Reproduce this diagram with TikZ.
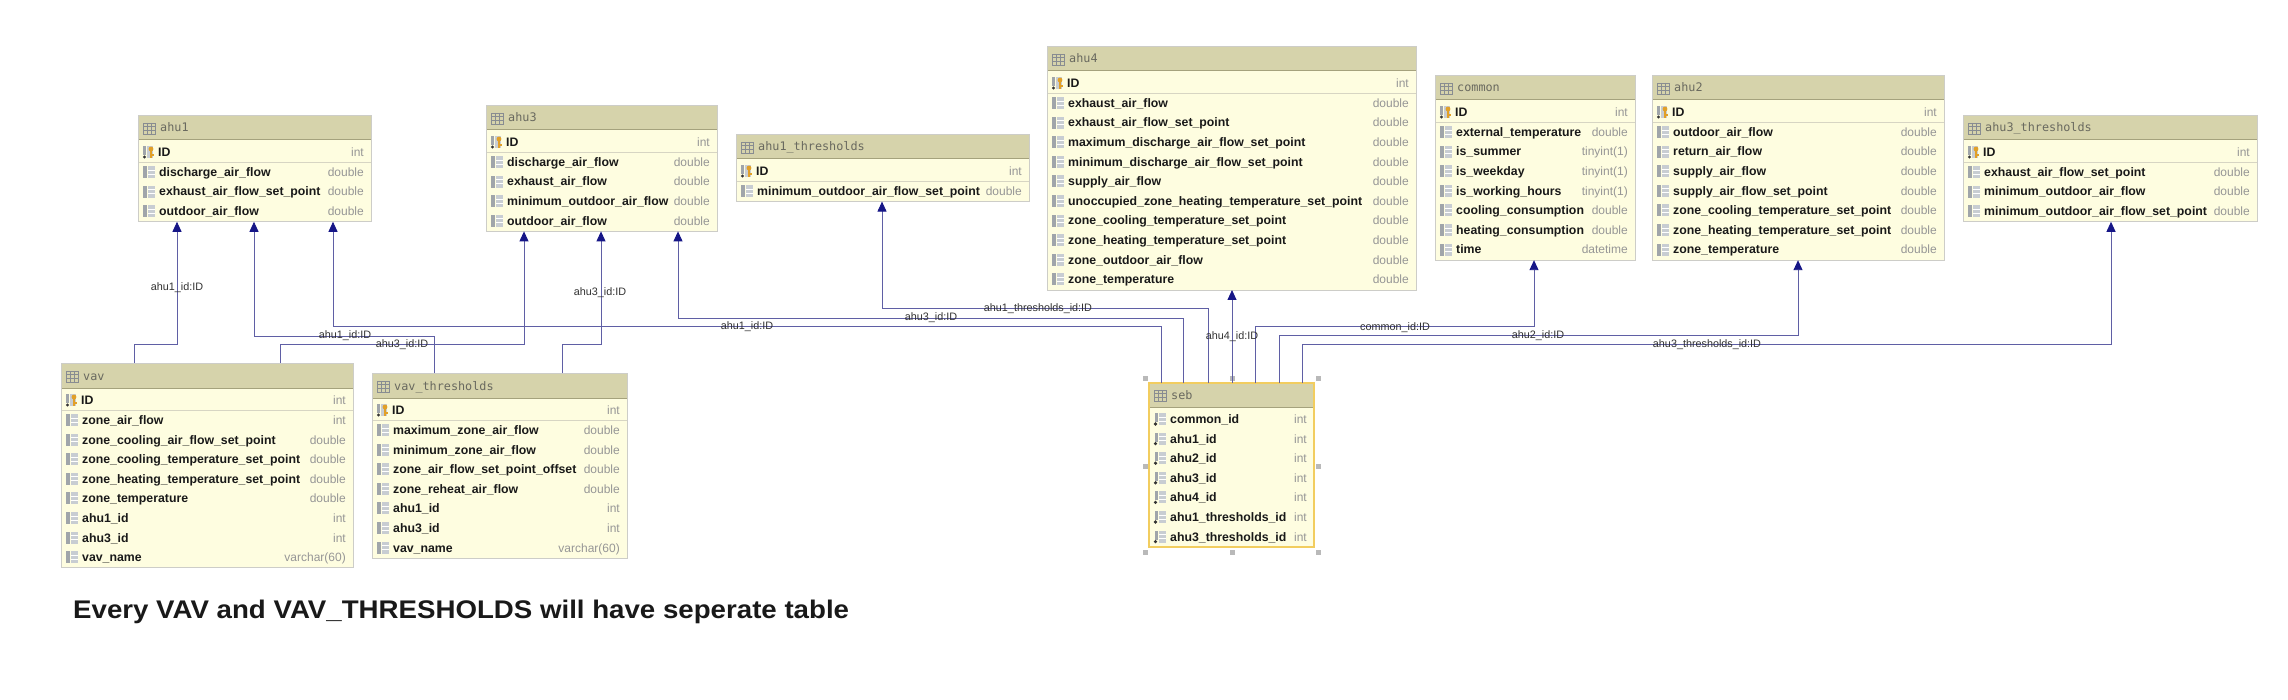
\documentclass[tikz,border=0pt]{standalone}
\usepackage{fontspec}
\setmainfont{Liberation Sans}
\newfontfamily\hdrfont{DejaVu Sans Mono}
\usepackage{graphicx}
\usetikzlibrary{arrows.meta}

\definecolor{bodyc}{RGB}{254,253,224}
\definecolor{hdrc}{RGB}{214,211,171}
\definecolor{hdrln}{RGB}{165,162,125}
\definecolor{brdc}{RGB}{205,205,200}
\definecolor{sepc}{RGB}{215,213,195}
\definecolor{linkc}{RGB}{95,95,165}
\definecolor{tipc}{RGB}{22,22,135}
\definecolor{typec}{RGB}{150,150,150}
\definecolor{namec}{RGB}{25,25,25}
\definecolor{hdrtc}{RGB}{105,105,95}
\definecolor{lblc}{RGB}{50,50,50}
\definecolor{icd}{RGB}{160,165,170}
\definecolor{icl}{RGB}{200,205,210}
\definecolor{keyc}{RGB}{225,160,40}
\definecolor{selc}{RGB}{242,205,95}

\tikzset{
 tblbox/.style={fill=bodyc, draw=none, inner sep=0pt, outer sep=0pt, anchor=north west},
 fname/.style={font=\fontsize{12.3}{14}\selectfont\bfseries, text=namec, inner sep=0pt, anchor=base west},
 ftype/.style={font=\fontsize{12}{14}\selectfont, text=typec, inner sep=0pt, anchor=base east},
 htext/.style={font=\hdrfont\fontsize{11.8}{14}\selectfont, text=hdrtc, inner sep=0pt, anchor=base west},
 rel/.style={draw=linkc, line width=0.9pt, -{Triangle[width=9pt,length=10pt,color=tipc]}},
 lbl/.style={font=\fontsize{10.8}{12}\selectfont, text=lblc, inner sep=0pt},
}

\newcommand\colicon{%
 \fill[icd] (0,-6) rectangle (4,6);
 \fill[icl] (5,-6) rectangle (12,6);
 \draw[white, line width=0.7pt] (5,-2) -- (12,-2) (5,2) -- (12,2);}
\newcommand\keyicon{%
 \fill[icd] (0,-6) rectangle (3,3);
 \fill[icl] (4,-6) rectangle (10,6);
 \fill[black!80] (1.5,5) circle (1.7);
 \fill[keyc] (8,-3) circle (2.4);
 \draw[keyc, line width=1.2pt] (8,-1) -- (8,6) (8,3) -- (10.5,3);}
\newcommand\fkicon{%
 \fill[icd] (1,-6) rectangle (4,3);
 \fill[icl] (5,-6) rectangle (12,6);
 \draw[white, line width=0.7pt] (5,-2) -- (12,-2) (5,2) -- (12,2);
 \fill[black!80] (1.5,5) circle (1.8);}
\newcommand\tblicon{%
 \draw[icd!85!black, line width=0.6pt] (0,-5) rectangle (12,6) (0,-1.5) -- (12,-1.5) (0,2) -- (12,2) (4,-5) -- (4,6) (8,-5) -- (8,6);}

% #1 name, #2 x, #3 y, #4 width, #5 nfields, #6 title, #7 fields
\newcommand\dbtable[7]{%
 \node[tblbox, minimum width=#4pt, minimum height={(48+#5*19.6)*1pt}] (#1) at (#2,#3) {};
 \fill[hdrc] (#1.north west) rectangle ([yshift=-25pt]#1.north east);
 \draw[hdrln, line width=1pt] ([yshift=-25pt]#1.north west) -- ([yshift=-25pt]#1.north east);
 \draw[sepc, line width=0.8pt] ([yshift=-47pt]#1.north west) -- ([yshift=-47pt]#1.north east);
 \begin{scope}[shift={([xshift=5pt,yshift=-13pt]#1.north west)}]\tblicon\end{scope}
 \node[htext] (#1-title) at ([xshift=22pt,yshift=-17pt]#1.north west) {#6};
 \begin{scope}[shift={([xshift=5pt,yshift=-37pt]#1.north west)}]\keyicon\end{scope}
 \node[fname] (#1-id) at ([xshift=20pt,yshift=-41.4pt]#1.north west) {ID};
 \node[ftype] (#1-idt) at ([xshift=-7pt,yshift=-41.4pt]#1.north east) {int};
 \foreach \fn/\ft [count=\i from 0] in {#7} {
   \pgfmathsetmacro\ry{57+\i*19.6}
   \pgfmathsetmacro\rb{\ry+4.4}
   \begin{scope}[shift={([xshift=5pt,yshift={-\ry*1pt}]#1.north west)}]\colicon\end{scope}
   \node[fname] (#1-f\i) at ([xshift=21pt,yshift={-\rb*1pt}]#1.north west) {\fn};
   \node[ftype] (#1-t\i) at ([xshift=-7pt,yshift={-\rb*1pt}]#1.north east) {\ft};
 }
 \draw[brdc, line width=0.8pt] (#1.north west) rectangle (#1.south east);
}

\begin{document}
\begin{tikzpicture}[x=1pt,y=-1pt]
\fill[white] (0,0) rectangle (2288,700);
\useasboundingbox (0,0) rectangle (2288,700);

\dbtable{ahu1}{138}{115}{233}{3}{ahu1}{discharge\_air\_flow/double, exhaust\_air\_flow\_set\_point/double, outdoor\_air\_flow/double}
\dbtable{ahu3}{486}{105}{231}{4}{ahu3}{discharge\_air\_flow/double, exhaust\_air\_flow/double, minimum\_outdoor\_air\_flow/double, outdoor\_air\_flow/double}
\dbtable{ahu1t}{736}{134}{293}{1}{ahu1\_thresholds}{minimum\_outdoor\_air\_flow\_set\_point/double}
\dbtable{ahu4}{1047}{46}{369}{10}{ahu4}{exhaust\_air\_flow/double, exhaust\_air\_flow\_set\_point/double, maximum\_discharge\_air\_flow\_set\_point/double, minimum\_discharge\_air\_flow\_set\_point/double, supply\_air\_flow/double, unoccupied\_zone\_heating\_temperature\_set\_point/double, zone\_cooling\_temperature\_set\_point/double, zone\_heating\_temperature\_set\_point/double, zone\_outdoor\_air\_flow/double, zone\_temperature/double}
\dbtable{common}{1435}{75}{200}{7}{common}{external\_temperature/double, is\_summer/tinyint(1), is\_weekday/tinyint(1), is\_working\_hours/tinyint(1), cooling\_consumption/double, heating\_consumption/double, time/datetime}
\dbtable{ahu2}{1652}{75}{292}{7}{ahu2}{outdoor\_air\_flow/double, return\_air\_flow/double, supply\_air\_flow/double, supply\_air\_flow\_set\_point/double, zone\_cooling\_temperature\_set\_point/double, zone\_heating\_temperature\_set\_point/double, zone\_temperature/double}
\dbtable{ahu3t}{1963}{115}{294}{3}{ahu3\_thresholds}{exhaust\_air\_flow\_set\_point/double, minimum\_outdoor\_air\_flow/double, minimum\_outdoor\_air\_flow\_set\_point/double}
\dbtable{vav}{61}{363}{292}{8}{vav}{zone\_air\_flow/int, zone\_cooling\_air\_flow\_set\_point/double, zone\_cooling\_temperature\_set\_point/double, zone\_heating\_temperature\_set\_point/double, zone\_temperature/double, ahu1\_id/int, ahu3\_id/int, vav\_name/varchar(60)}
\dbtable{vavt}{372}{373}{255}{7}{vav\_thresholds}{maximum\_zone\_air\_flow/double, minimum\_zone\_air\_flow/double, zone\_air\_flow\_set\_point\_offset/double, zone\_reheat\_air\_flow/double, ahu1\_id/int, ahu3\_id/int, vav\_name/varchar(60)}

% seb table (selected)
\node[tblbox, minimum width=165pt, minimum height=164pt] (seb) at (1149,383) {};
\fill[hdrc] (seb.north west) rectangle ([yshift=-24pt]seb.north east);
\draw[hdrln, line width=1pt] ([yshift=-24pt]seb.north west) -- ([yshift=-24pt]seb.north east);
\begin{scope}[shift={([xshift=5pt,yshift=-12pt]seb.north west)}]\tblicon\end{scope}
\node[htext] (seb-title) at ([xshift=22pt,yshift=-16pt]seb.north west) {seb};
\foreach \fn [count=\i from 0] in {common\_id, ahu1\_id, ahu2\_id, ahu3\_id, ahu4\_id, ahu1\_thresholds\_id, ahu3\_thresholds\_id} {
  \pgfmathsetmacro\ry{36+\i*19.6}
  \pgfmathsetmacro\rb{\ry+4.4}
  \begin{scope}[shift={([xshift=5pt,yshift={-\ry*1pt}]seb.north west)}]\fkicon\end{scope}
  \node[fname] (seb-f\i) at ([xshift=21pt,yshift={-\rb*1pt}]seb.north west) {\fn};
  \node[ftype] (seb-t\i) at ([xshift=-7pt,yshift={-\rb*1pt}]seb.north east) {int};
}
\draw[selc, line width=1.5pt] (seb.north west) rectangle (seb.south east);
\foreach \hx/\hy in {1145/378, 1232/378, 1318/378, 1145/466, 1318/466, 1145/552, 1232/552, 1318/552}
  \fill[gray!55] (\hx-2.5,\hy-2.5) rectangle (\hx+2.5,\hy+2.5);

% connector end points
\coordinate (ahu1-a) at ([xshift=39pt]ahu1.south west);
\coordinate (ahu1-b) at ([xshift=116pt]ahu1.south west);
\coordinate (ahu1-c) at ([xshift=195pt]ahu1.south west);
\coordinate (ahu3-a) at ([xshift=38pt]ahu3.south west);
\coordinate (ahu3-b) at ([xshift=115pt]ahu3.south west);
\coordinate (ahu3-c) at ([xshift=192pt]ahu3.south west);
\coordinate (ahu1t-a) at ([xshift=146pt]ahu1t.south west);
\coordinate (ahu4-a) at ([xshift=185pt]ahu4.south west);
\coordinate (common-a) at ([xshift=99pt]common.south west);
\coordinate (ahu2-a) at ([xshift=146pt]ahu2.south west);
\coordinate (ahu3t-a) at ([xshift=148pt]ahu3t.south west);
\coordinate (vav-a) at ([xshift=73pt]vav.north west);
\coordinate (vav-b) at ([xshift=219pt]vav.north west);
\coordinate (vavt-a) at ([xshift=62pt]vavt.north west);
\coordinate (vavt-b) at ([xshift=190pt]vavt.north west);
\coordinate (seb-1) at ([xshift=12pt]seb.north west);
\coordinate (seb-2) at ([xshift=34pt]seb.north west);
\coordinate (seb-3) at ([xshift=59pt]seb.north west);
\coordinate (seb-4) at ([xshift=83pt]seb.north west);
\coordinate (seb-5) at ([xshift=106pt]seb.north west);
\coordinate (seb-6) at ([xshift=130pt]seb.north west);
\coordinate (seb-7) at ([xshift=153pt]seb.north west);

% connectors
\draw[rel] (vav-a) |- (ahu1-a |- 0,344) -- (ahu1-a);
\draw[rel] (vavt-a) |- (ahu1-b |- 0,336) -- (ahu1-b);
\draw[rel] (vav-b) |- (ahu3-a |- 0,344) -- (ahu3-a);
\draw[rel] (vavt-b) |- (ahu3-b |- 0,344) -- (ahu3-b);
\draw[rel] (seb-1) |- (ahu1-c |- 0,326) -- (ahu1-c);
\draw[rel] (seb-2) |- (ahu3-c |- 0,318) -- (ahu3-c);
\draw[rel] (seb-3) |- (ahu1t-a |- 0,308) -- (ahu1t-a);
\draw[rel] (seb-4) -- (ahu4-a);
\draw[rel] (seb-5) |- (common-a |- 0,326) -- (common-a);
\draw[rel] (seb-6) |- (ahu2-a |- 0,335) -- (ahu2-a);
\draw[rel] (seb-7) |- (ahu3t-a |- 0,344) -- (ahu3t-a);

% connector labels
\node[lbl] (l1) at (177,288) {ahu1\_id:ID};
\node[lbl] (l2) at (345,336) {ahu1\_id:ID};
\node[lbl] (l3) at (402,345) {ahu3\_id:ID};
\node[lbl] (l4) at (600,293) {ahu3\_id:ID};
\node[lbl] (l5) at (747,327) {ahu1\_id:ID};
\node[lbl] (l6) at (931,318) {ahu3\_id:ID};
\node[lbl] (l7) at (1038,309) {ahu1\_thresholds\_id:ID};
\node[lbl] (l8) at (1232,337) {ahu4\_id:ID};
\node[lbl] (l9) at (1395,328) {common\_id:ID};
\node[lbl] (l10) at (1538,336) {ahu2\_id:ID};
\node[lbl] (l11) at (1707,345) {ahu3\_thresholds\_id:ID};

% caption
\node[anchor=base west, inner sep=0pt, font=\fontsize{25.5}{30}\selectfont\bfseries, text=black!90] (cap) at (73,618) {\scalebox{1.085}[1]{Every VAV and VAV\_THRESHOLDS will have seperate table}};
\end{tikzpicture}
\end{document}
